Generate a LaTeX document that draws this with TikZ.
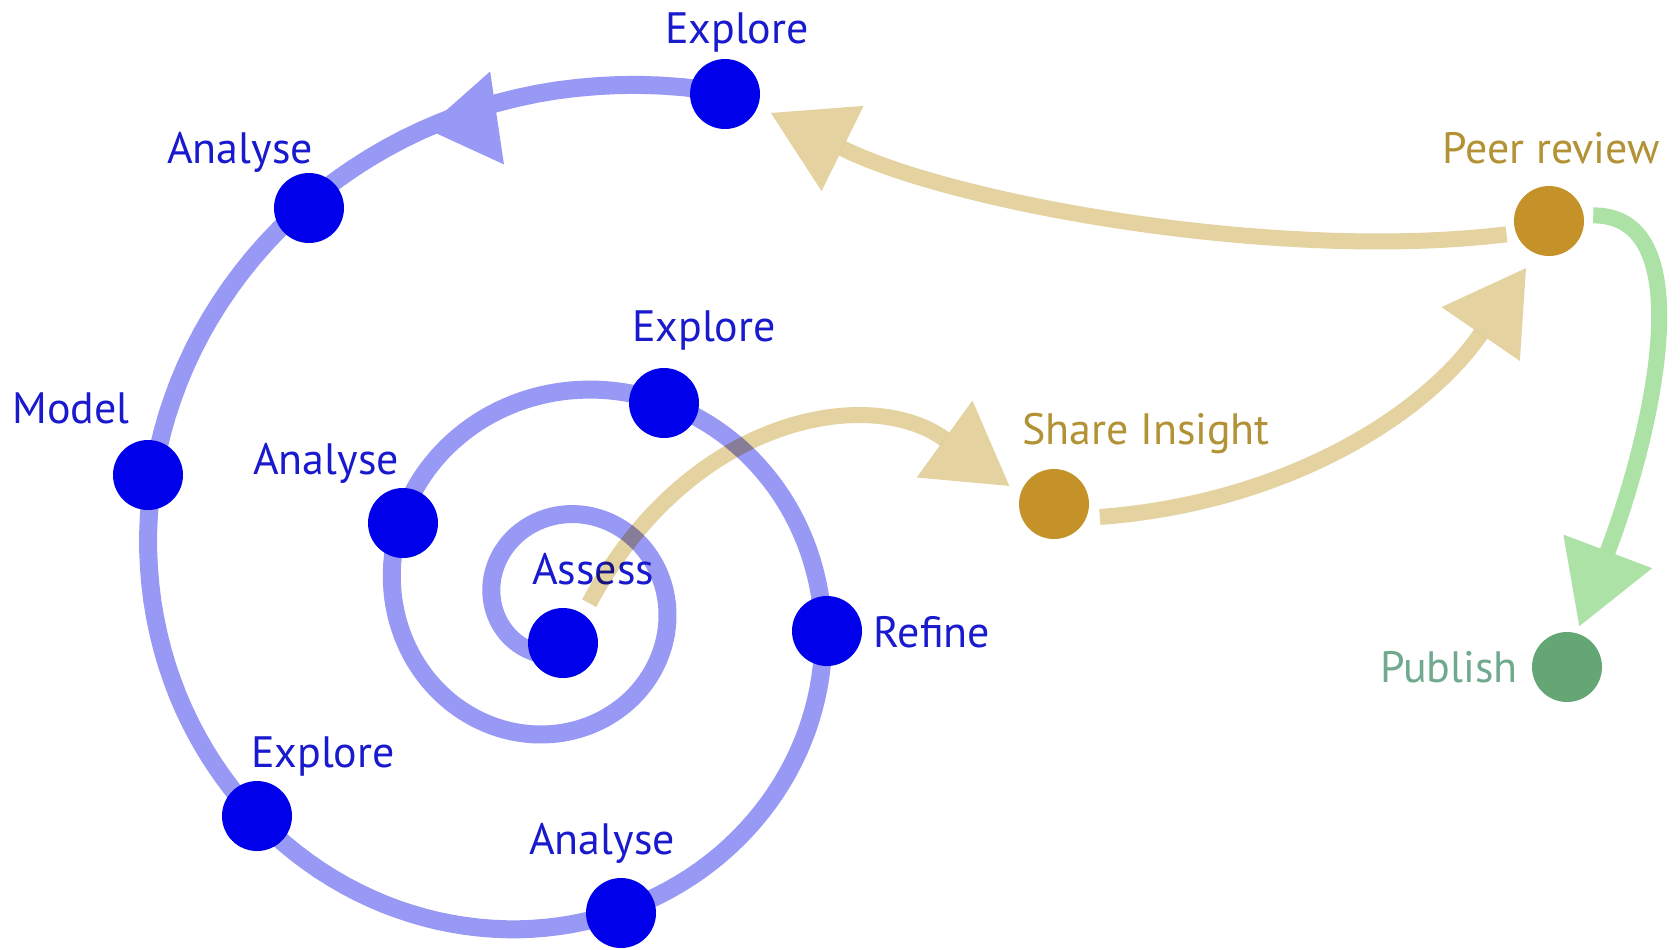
\documentclass[tikz,border=0pt]{standalone}
\usepackage{fontspec}
\setmainfont{PT Sans}
\usepackage{tikz}
\usetikzlibrary{arrows.meta,decorations.markings}
\definecolor{dotblue}{RGB}{0,0,235}
\definecolor{textblue}{RGB}{25,25,205}
\definecolor{spiralblue}{RGB}{152,152,245}
\definecolor{tanline}{RGB}{228,210,160}
\definecolor{gold}{RGB}{196,146,40}
\definecolor{goldtext}{RGB}{178,146,52}
\definecolor{greenline}{RGB}{172,226,166}
\definecolor{greendot}{RGB}{100,166,116}
\definecolor{greentext}{RGB}{112,170,142}

\begin{document}
\begin{tikzpicture}[y=-1cm,
    dot/.style={circle, fill=#1, minimum size=0.7cm, inner sep=0pt},
    lbl/.style={anchor=base, text=#1, font=\fontsize{12.5pt}{15pt}\selectfont},
    flow/.style={line width=0.16cm, draw=#1, blend mode=multiply},
    head/.style={-{Triangle[length=0.8cm,width=0.95cm,line width=0pt]}}]
    \path[use as bounding box, fill=white] (0, 0) rectangle (16.8, 9.49);
    \draw[line width=0.18cm, spiralblue, postaction={decorate},
      decoration={markings, mark=at position 0.09 with {\fill[spiralblue, rotate=-15] (0, 0) -- (-0.72, 0.47) -- (-0.72, -0.47) -- cycle;}}]
      plot[domain=72:990, samples=400, variable=\t]
      ({5.6 + 5.1*exp(-0.00248*(\t-90))*cos(\t)}, {6.0 - 5.1*exp(-0.00248*(\t-90))*sin(\t)});
    \node[dot=dotblue] (exploreA) at (7.25, 0.94) {};
    \node[dot=dotblue] (analyseA) at (3.09, 2.08) {};
    \node[dot=dotblue] (model) at (1.48, 4.75) {};
    \node[dot=dotblue] (exploreB) at (2.57, 8.16) {};
    \node[dot=dotblue] (analyseB) at (6.21, 9.13) {};
    \node[dot=dotblue] (refine) at (8.27, 6.31) {};
    \node[dot=dotblue] (exploreC) at (6.64, 4.03) {};
    \node[dot=dotblue] (analyseC) at (4.03, 5.23) {};
    \node[dot=dotblue] (assess) at (5.63, 6.43) {};
    \node[dot=gold] (share) at (10.54, 5.04) {};
    \node[dot=gold] (peer) at (15.49, 2.21) {};
    \node[dot=greendot] (publish) at (15.67, 6.67) {};
    \node[lbl=textblue] (exploreAtext) at (7.37, 0.43) {Explore};
    \node[lbl=textblue] (analyseAtext) at (2.40, 1.63) {Analyse};
    \node[lbl=textblue] (modeltext) at (0.71, 4.23) {Model};
    \node[lbl=textblue] (exploreBtext) at (3.23, 7.67) {Explore};
    \node[lbl=textblue] (analyseBtext) at (6.02, 8.54) {Analyse};
    \node[lbl=textblue] (refinetext) at (9.32, 6.47) {Refine};
    \node[lbl=textblue] (exploreCtext) at (7.04, 3.41) {Explore};
    \node[lbl=textblue] (analyseCtext) at (3.26, 4.74) {Analyse};
    \node[lbl=textblue] (assesstext) at (5.93, 5.84) {Assess};
    \node[lbl=goldtext] (sharetext) at (11.46, 4.44) {Share Insight};
    \node[lbl=goldtext] (peertext) at (15.51, 1.63) {Peer review};
    \node[lbl=greentext] (publishtext) at (14.49, 6.82) {Publish};
    \draw[flow=tanline, head, shorten <=0.12cm, shorten >=0.13cm]
      (assess.55) .. controls (6.90, 4.15) and (8.70, 3.85) .. (share.163);
    \draw[flow=tanline, head, shorten <=0.13cm, shorten >=0.17cm]
      (share.-23) .. controls (12.86, 5.03) and (14.25, 4.15) .. (peer.248);
    \draw[flow=tanline, head, shorten <=0.09cm, shorten >=0.14cm]
      (peer.200) .. controls (12.80, 2.62) and (9.55, 2.04) .. (exploreA.-21);
    \draw[flow=greenline, head, shorten <=0.09cm, shorten >=0.07cm]
      (peer.9) .. controls (17.05, 2.15) and (16.50, 4.40) .. (publish.74);
\end{tikzpicture}
\end{document}
